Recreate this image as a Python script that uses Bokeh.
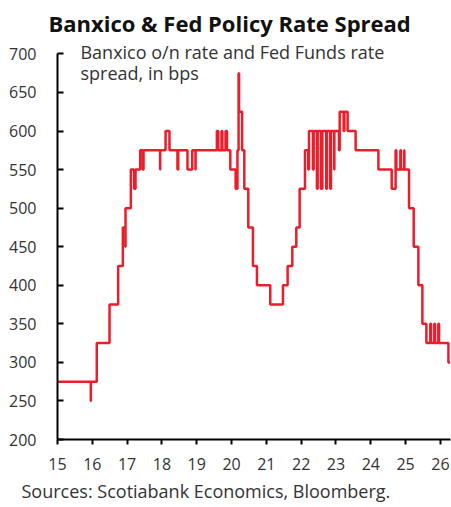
from datetime import date
from bokeh.plotting import figure
from bokeh.models import Label, Title, FixedTicker, Range1d
from bokeh.embed import file_html
from bokeh.resources import INLINE

# Change dates of the Banxico o/n rate minus Fed Funds (upper bound) spread, bps
dates = [
    "2015-01-01", "2015-12-16", "2015-12-17", "2016-02-17", "2016-06-30",
    "2016-09-29", "2016-11-17", "2016-12-14", "2016-12-15", "2017-02-09",
    "2017-03-15", "2017-03-30", "2017-05-18", "2017-06-14", "2017-06-22",
    "2017-12-13", "2017-12-14", "2018-02-08", "2018-03-21", "2018-06-13",
    "2018-06-21", "2018-09-26", "2018-11-15", "2018-12-19", "2018-12-20",
    "2019-07-31", "2019-08-15", "2019-09-18", "2019-09-26", "2019-10-30",
    "2019-11-14", "2019-12-19", "2020-02-13", "2020-03-03", "2020-03-15",
    "2020-03-20", "2020-04-21", "2020-05-14", "2020-06-25", "2020-08-13",
    "2020-09-24", "2021-02-11", "2021-06-24", "2021-08-12", "2021-09-30",
    "2021-11-11", "2021-12-16", "2022-02-10", "2022-03-16", "2022-03-24",
    "2022-05-04", "2022-05-12", "2022-06-15", "2022-06-23", "2022-07-27",
    "2022-08-11", "2022-09-21", "2022-09-29", "2022-11-02", "2022-11-10",
    "2022-12-14", "2022-12-15", "2023-02-01", "2023-02-09", "2023-03-22",
    "2023-03-30", "2023-05-03", "2023-07-26", "2024-03-21", "2024-08-08",
    "2024-09-18", "2024-09-26", "2024-11-07", "2024-11-14", "2024-12-18",
    "2024-12-19", "2025-02-06", "2025-03-27", "2025-05-15", "2025-06-26",
    "2025-08-07", "2025-09-17", "2025-09-25", "2025-10-29", "2025-11-06",
    "2025-12-10", "2025-12-18", "2026-03-26", "2026-04-14",
]
spread = [
    275, 250, 275, 325, 375,
    425, 475, 450, 500, 550,
    525, 550, 575, 550, 575,
    550, 575, 600, 575, 550,
    575, 550, 575, 550, 575,
    600, 575, 600, 575, 600,
    575, 550, 525, 575, 675,
    625, 575, 525, 475, 425,
    400, 375, 400, 425, 450,
    475, 525, 575, 550, 600,
    550, 600, 525, 600, 525,
    600, 525, 600, 525, 600,
    550, 600, 575, 625, 600,
    625, 600, 575, 550, 525,
    575, 550, 575, 550, 575,
    550, 500, 450, 400, 350,
    325, 350, 325, 350, 325,
    350, 325, 300, 300,
]

x_ticks = list(range(15, 27))
y_ticks = list(range(200, 701, 50))

TITLE = "Banxico & Fed Policy Rate Spread"
SUBTITLE_1 = "Banxico o/n rate and Fed Funds rate"
SUBTITLE_2 = "spread, in bps"
SOURCE = "Sources: Scotiabank Economics, Bloomberg."


def frac_year(s):
    d = date.fromisoformat(s)
    start = date(d.year, 1, 1)
    n = (date(d.year + 1, 1, 1) - start).days
    return d.year - 2000 + (d - start).days / n


xs = [frac_year(s) for s in dates]

FONT = "Open Sans"
RED = "#EC1D2B"

p = figure(width=451, height=507, output_backend="svg", toolbar_location=None,
           x_range=Range1d(15, 26.29), y_range=Range1d(200, 713.5),
           min_border_left=57, min_border_right=1, min_border_top=41,
           min_border_bottom=67, title=TITLE)

p.outline_line_color = None
p.xgrid.visible = False
p.ygrid.visible = False
p.background_fill_color = "white"
p.border_fill_color = "white"

p.title.align = "left"
p.title.offset = -9
p.title.standoff = 11
p.title.text_font = FONT
p.title.text_font_size = "22px"
p.title.text_font_style = "bold"
p.title.text_color = "#111111"

for ax in (p.xaxis, p.yaxis):
    ax.axis_line_width = 2
    ax.axis_line_color = "black"
    ax.major_tick_line_width = 2
    ax.major_tick_line_color = "black"
    ax.minor_tick_line_color = None
    ax.major_label_text_font = FONT
    ax.major_label_text_font_size = "16px"
    ax.major_label_text_color = "#333333"

p.yaxis.ticker = FixedTicker(ticks=y_ticks)
p.yaxis.bounds = (200, 700)
p.yaxis.major_tick_in = 6
p.yaxis.major_tick_out = 0
p.yaxis.major_label_standoff = 21

p.xaxis.ticker = FixedTicker(ticks=x_ticks)
p.xaxis.major_tick_in = 0
p.xaxis.major_tick_out = 5
p.xaxis.major_label_standoff = 13

p.step(xs, spread, mode="after", line_color=RED, line_width=2.5)

for txt, yv in ((SUBTITLE_1, 702), (SUBTITLE_2, 675)):
    p.add_layout(Label(x=15.66, y=yv, text=txt, text_baseline="middle",
                       text_font=FONT, text_font_size="18px",
                       text_color="#333333"))

p.add_layout(Title(text=SOURCE, align="left", offset=-36, standoff=9,
                   text_font=FONT, text_font_size="18px",
                   text_font_style="normal", text_color="#333333"), "below")

open("out.html", "w").write(file_html(p, INLINE))
